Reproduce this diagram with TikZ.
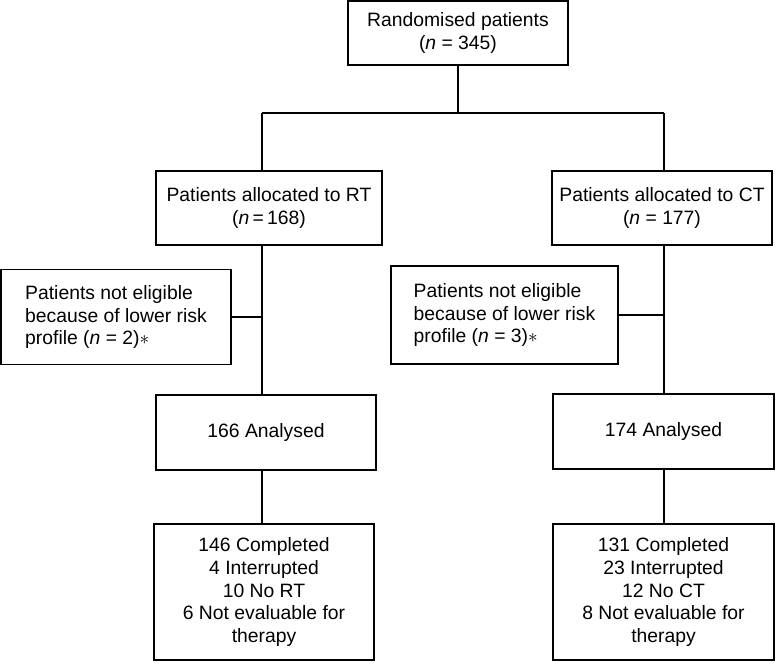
\documentclass[tikz,border=0pt]{standalone}
\usepackage{fontspec}
\setmainfont{Liberation Sans}
\usepackage{tikz}
\tikzstyle{box}=[draw,rectangle,align=center,inner sep=0pt,font=\fontsize{14.5}{16.9}\selectfont]
\tikzstyle{sidebox}=[box,align=left]

\begin{document}
\begin{tikzpicture}[x=0.75pt, y=-0.75pt, line width=1pt]
  \useasboundingbox (0,0) rectangle (776,665);
  % boxes
  \node[box,minimum width=165pt,minimum height=48pt] (top) at (458,33)
    {Randomised patients\\(\textit{n} = 345)};
  \node[box,minimum width=169.5pt,minimum height=55.5pt] (allocL) at (269,208)
    {Patients allocated to RT\\(\textit{n}\,=\,168)};
  \node[box,minimum width=165pt,minimum height=55.5pt] (allocR) at (662,208)
    {Patients allocated to CT\\(\textit{n} = 177)};
  \node[sidebox,minimum width=172.5pt,minimum height=71.25pt] (exclL) at (116,317)
    {Patients not eligible\\because of lower risk\\profile (\textit{n} = 2)$\ast$};
  \node[sidebox,minimum width=170.25pt,minimum height=73.5pt] (exclR) at (504.5,315)
    {Patients not eligible\\because of lower risk\\profile (\textit{n} = 3)$\ast$};
  \node[box,minimum width=165pt,minimum height=56.25pt] (anaL) at (266,432.5)
    {166 Analysed};
  \node[box,minimum width=165.75pt,minimum height=56.25pt] (anaR) at (663.5,431.5)
    {174 Analysed};
  \node[box,minimum width=165pt,minimum height=102pt] (outL) at (264,592)
    {146 Completed\\4 Interrupted\\10 No RT\\6 Not evaluable for\\therapy};
  \node[box,minimum width=165.75pt,minimum height=102pt] (outR) at (663.5,592)
    {131 Completed\\23 Interrupted\\12 No CT\\8 Not evaluable for\\therapy};
  % connectors
  \coordinate (bus) at (458,113);
  \coordinate (trunkL) at (262,113);
  \coordinate (trunkR) at (664,113);
  \draw (top.south) -- (bus);
  \draw (trunkL) -- (trunkR);
  \foreach \s in {L,R}{
    \draw (trunk\s) -- (trunk\s |- alloc\s.north);
    \draw (trunk\s |- alloc\s.south) -- (trunk\s |- ana\s.north);
    \draw (excl\s.east) -- (excl\s.east -| trunk\s);
    \draw (trunk\s |- ana\s.south) -- (trunk\s |- out\s.north);
  }
\end{tikzpicture}
\end{document}
